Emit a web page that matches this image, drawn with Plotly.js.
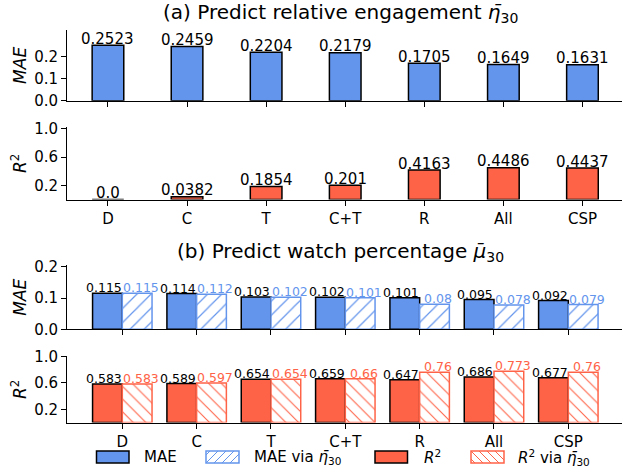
<!DOCTYPE html>
<html>
<head>
<meta charset="utf-8">
<script src="https://cdn.plot.ly/plotly-3.0.1.min.js"></script>
<style>html,body{margin:0;padding:0;background:#fff;}#chart{width:622px;height:468px;}</style>
</head>
<body>
<div id="chart"></div>
<script>
// ---- data ----
const categories = ["D", "C", "T", "C+T", "R", "All", "CSP"];
const maeEngagement = [0.2523, 0.2459, 0.2204, 0.2179, 0.1705, 0.1649, 0.1631];
const r2Engagement = [0.0, 0.0382, 0.1854, 0.201, 0.4163, 0.4486, 0.4437];
const maeWatch = [0.115, 0.114, 0.103, 0.102, 0.101, 0.095, 0.092];
const maeWatchVia = [0.115, 0.112, 0.102, 0.101, 0.08, 0.078, 0.079];
const r2Watch = [0.583, 0.589, 0.654, 0.659, 0.647, 0.686, 0.677];
const r2WatchVia = [0.583, 0.597, 0.654, 0.66, 0.76, 0.773, 0.76];
const maeTicks = [0, 0.1, 0.2];
const r2Ticks = [0.2, 0.6, 1.0];
const legendLabels = ["MAE", "MAE via <i>η̄</i><sub>30</sub>", "<i>R</i><sup>2</sup>", "<i>R</i><sup>2</sup> via <i>η̄</i><sub>30</sub>"];

// ---- style ----
const BLUE = "#6495ED", RED = "#FF6347";
const FONT = "DejaVu Sans";
const W = 622, H = 468, ML = 67;
const px = p => (p - ML) / (W - ML);
const py = p => 1 - p / H;
const fmt = v => Number.isInteger(v) ? v.toFixed(1) : String(v);

const traces = [
  {type: "bar", x: categories, y: maeEngagement, xaxis: "x", yaxis: "y", width: 0.4,
   marker: {color: BLUE, line: {color: "black", width: 1.5}}},
  {type: "bar", x: categories, y: r2Engagement, xaxis: "x2", yaxis: "y2", width: 0.4,
   marker: {color: RED, line: {color: "black", width: 1.5}}},
  {type: "bar", x: categories, y: maeWatch, xaxis: "x3", yaxis: "y3", width: 0.4, offset: -0.4,
   marker: {color: BLUE, line: {color: "black", width: 1.5}}},
  {type: "bar", x: categories, y: maeWatchVia, xaxis: "x3", yaxis: "y3", width: 0.4, offset: 0,
   marker: {color: "white", line: {color: BLUE, width: 1.5},
            pattern: {shape: "/", fgcolor: BLUE, bgcolor: "white", size: 10, solidity: 0.12}}},
  {type: "bar", x: categories, y: r2Watch, xaxis: "x4", yaxis: "y4", width: 0.4, offset: -0.4,
   marker: {color: RED, line: {color: "black", width: 1.5}}},
  {type: "bar", x: categories, y: r2WatchVia, xaxis: "x4", yaxis: "y4", width: 0.4, offset: 0,
   marker: {color: "white", line: {color: RED, width: 1.5},
            pattern: {shape: "\\", fgcolor: RED, bgcolor: "white", size: 9, solidity: 0.12}}}
];
traces.forEach(t => { t.showlegend = false; t.hoverinfo = "skip"; });

function xax(range, anchor, showLabels) {
  return {type: "category", categoryarray: categories, range: range, anchor: anchor,
    domain: [0, 1], showline: true, linecolor: "black", linewidth: 1, ticks: "outside",
    ticklen: 5, tickcolor: "black", showticklabels: showLabels, showgrid: false,
    zeroline: false, tickfont: {family: FONT, size: 15, color: "black"}, fixedrange: true};
}
function yax(domain, range, tickvals, title, anchor) {
  return {domain: domain, range: range, anchor: anchor, tickvals: tickvals, tickformat: ".1f",
    showline: true, linecolor: "black", linewidth: 1, ticks: "outside", ticklen: 5,
    tickcolor: "black", showgrid: false, zeroline: false,
    tickfont: {family: FONT, size: 15, color: "black"},
    title: {text: title, font: {family: FONT, size: 17, color: "black"}, standoff: 3},
    automargin: false, fixedrange: true};
}

const annotations = [];
const YS = -4.5;
categories.forEach((c, i) => {
  annotations.push({x: c, y: maeEngagement[i], xref: "x", yref: "y", text: fmt(maeEngagement[i]),
    showarrow: false, yanchor: "bottom", yshift: YS, font: {family: FONT, size: 15, color: "black"}});
  annotations.push({x: c, y: r2Engagement[i], xref: "x2", yref: "y2", text: fmt(r2Engagement[i]),
    showarrow: false, yanchor: "bottom", yshift: YS, font: {family: FONT, size: 15, color: "black"}});
  annotations.push({x: c, y: maeWatch[i], xref: "x3", yref: "y3", text: fmt(maeWatch[i]),
    showarrow: false, yanchor: "bottom", yshift: YS + 0.5, xshift: -18.6, font: {family: FONT, size: 12.5, color: "black"}});
  annotations.push({x: c, y: maeWatchVia[i], xref: "x3", yref: "y3", text: fmt(maeWatchVia[i]),
    showarrow: false, yanchor: "bottom", yshift: YS + 0.5, xshift: 18.6, font: {family: FONT, size: 12.5, color: BLUE}});
  annotations.push({x: c, y: r2Watch[i], xref: "x4", yref: "y4", text: fmt(r2Watch[i]),
    showarrow: false, yanchor: "bottom", yshift: YS + 0.5, xshift: -18.6, font: {family: FONT, size: 12.5, color: "black"}});
  annotations.push({x: c, y: r2WatchVia[i], xref: "x4", yref: "y4", text: fmt(r2WatchVia[i]),
    showarrow: false, yanchor: "bottom", yshift: YS + 0.5, xshift: 18.6, font: {family: FONT, size: 12.5, color: RED}});
});
annotations.push({xref: "paper", yref: "paper", x: px(340), y: py(13), xanchor: "center", yanchor: "middle",
  showarrow: false, text: "(a) Predict relative engagement <i>η̄</i><sub>30</sub>", font: {family: FONT, size: 20, color: "black"}});
annotations.push({xref: "paper", yref: "paper", x: px(340), y: py(252), xanchor: "center", yanchor: "middle",
  showarrow: false, text: "(b) Predict watch percentage <i>μ̄</i><sub>30</sub>", font: {family: FONT, size: 20, color: "black"}});

// ---- manual legend ----
const shapes = [];
const patches = [[96.5, 129], [206, 239], [375, 407.5], [471, 504]];
const textX = [142, 252, 422, 516];
const LY0 = 451, LY1 = 463;
function hatch(x0, y0, x1, y1, dir, sp, color) {
  if (dir === "/") {
    for (let c = x0 + y0 + sp / 2; c < x1 + y1; c += sp) {
      const xa = Math.max(x0, c - y1), xb = Math.min(x1, c - y0);
      if (xb > xa) shapes.push({type: "line", xref: "paper", yref: "paper",
        x0: px(xa), y0: py(c - xa), x1: px(xb), y1: py(c - xb), line: {color: color, width: 1}});
    }
  } else {
    for (let c = x0 - y1 + sp / 2; c < x1 - y0; c += sp) {
      const xa = Math.max(x0, c + y0), xb = Math.min(x1, c + y1);
      if (xb > xa) shapes.push({type: "line", xref: "paper", yref: "paper",
        x0: px(xa), y0: py(xa - c), x1: px(xb), y1: py(xb - c), line: {color: color, width: 1}});
    }
  }
}
const legendStyle = [
  {fill: BLUE, edge: "black"}, {fill: "white", edge: BLUE, hatch: "/"},
  {fill: RED, edge: "black"}, {fill: "white", edge: RED, hatch: "\\"}
];
legendStyle.forEach((s, k) => {
  const [a, b] = patches[k];
  shapes.push({type: "rect", xref: "paper", yref: "paper", x0: px(a), x1: px(b), y0: py(LY1), y1: py(LY0),
    fillcolor: s.fill, line: {color: s.edge, width: 1.5}});
  if (s.hatch) hatch(a, LY0, b, LY1, s.hatch, 8, s.edge);
  annotations.push({xref: "paper", yref: "paper", x: px(textX[k]), y: py((LY0 + LY1) / 2), xanchor: "left",
    yanchor: "middle", showarrow: false, text: legendLabels[k], font: {family: FONT, size: 15, color: "black"}});
});

const layout = {
  width: W, height: H, margin: {l: ML, r: 0, t: 0, b: 0, pad: 0},
  paper_bgcolor: "white", plot_bgcolor: "white", barmode: "overlay", showlegend: false,
  font: {family: FONT, color: "black"},
  xaxis: xax([-0.518, 6.5], "y", false),
  xaxis2: xax([-0.518, 6.5], "y2", true),
  xaxis3: xax([-0.744, 6.722], "y3", false),
  xaxis4: xax([-0.744, 6.722], "y4", true),
  yaxis: yax([1 - 100.7 / H, 1 - 30 / H], [0, 0.321], maeTicks, "<i>MAE</i>", "x"),
  yaxis2: yax([1 - 199.5 / H, 1 - 127.3 / H], [0, 1.02], r2Ticks, "<i>R</i><sup>2</sup>", "x2"),
  yaxis3: yax([1 - 329.3 / H, 1 - 265 / H], [0, 0.2054], maeTicks, "<i>MAE</i>", "x3"),
  yaxis4: yax([1 - 422.5 / H, 1 - 356.3 / H], [0, 1.0], r2Ticks, "<i>R</i><sup>2</sup>", "x4"),
  annotations: annotations, shapes: shapes
};
Plotly.newPlot("chart", traces, layout, {staticPlot: true, displayModeBar: false});
</script>
</body>
</html>
